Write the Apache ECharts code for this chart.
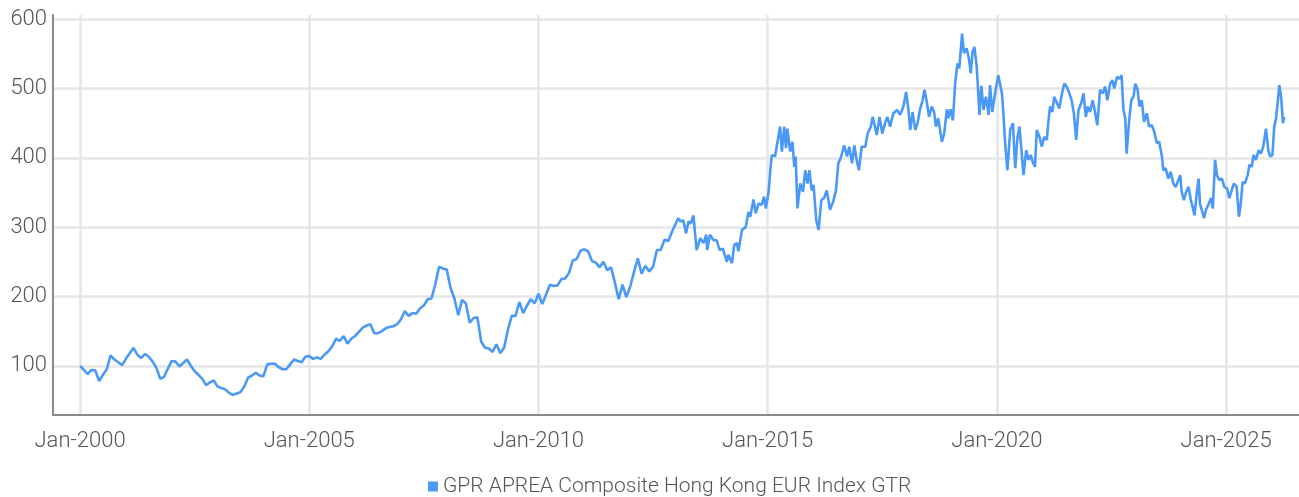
<!DOCTYPE html>
<html><head><meta charset="utf-8">
<script src="https://cdn.jsdelivr.net/npm/echarts@6/dist/echarts.min.js"></script>
<style>html,body{margin:0;padding:0;background:#fff}#c{width:1299px;height:497px}</style>
</head><body><div id="c"></div><script>
const seriesName = 'GPR APREA Composite Hong Kong EUR Index GTR';
const monthlyStartYear = 2000;
const monthlyValues = [
100,94,88,94,93,78,87,95,115,109,105,101,
110,118,126,116,111,117,113,106,97,81,84,96,
107,106,99,104,109,100,92,87,81,72,76,79,
70,68,66,61,58,60,62,70,83,86,90,86,
85,102,103,103,98,95,95,102,109,107,105,113,
114,110,112,110,116,121,128,139,136,143,132,139,
143,149,155,158,160,147,147,150,154,156,157,160,
167,179,172,176,175,183,187,196,197,218,243,240,
239,212,197,173,195,190,162,169,170,135,126,125,
120,131,118,126,152,172,172,192,176,187,196,190,
204,189,203,217,215,216,225,226,234,252,254,266,
268,265,251,249,242,250,238,242,220,196,217,199,
214,235,255,233,244,236,243,267,267,282,280,294
];
const denseYears = [
2013.05,2013.10,2013.16,2013.22,2013.27,2013.32,2013.38,2013.45,2013.53,2013.60,2013.66,2013.68,2013.74,2013.82,2013.89,2013.95,
2014.02,2014.11,2014.14,2014.22,2014.27,2014.33,2014.36,2014.44,2014.52,2014.58,2014.62,2014.69,2014.74,2014.80,2014.87,2014.92,2014.96,
2015.02,2015.07,2015.09,2015.16,2015.27,2015.31,2015.36,2015.40,2015.43,2015.49,2015.54,2015.58,2015.61,2015.65,2015.71,2015.77,2015.82,2015.87,2015.91,2015.96,
2016.00,2016.06,2016.11,2016.17,2016.23,2016.29,2016.36,2016.43,2016.49,2016.54,2016.59,2016.67,2016.73,2016.78,2016.84,2016.89,2016.94,2016.99,
2017.05,2017.13,2017.18,2017.25,2017.29,2017.34,2017.38,2017.44,2017.50,2017.56,2017.61,2017.67,2017.74,2017.82,2017.89,2017.96,
2018.02,2018.07,2018.11,2018.16,2018.22,2018.27,2018.32,2018.38,2018.42,2018.47,2018.52,2018.58,2018.63,2018.67,2018.72,2018.80,2018.85,2018.91,2018.94,2018.99,
2019.04,2019.09,2019.14,2019.18,2019.24,2019.28,2019.34,2019.39,2019.43,2019.47,2019.51,2019.56,2019.62,2019.66,2019.71,2019.76,2019.82,2019.85,2019.90,2019.96,
2020.03,2020.07,2020.11,2020.14,2020.18,2020.23,2020.29,2020.35,2020.40,2020.45,2020.49,2020.53,2020.58,2020.64,2020.69,2020.74,2020.78,2020.83,2020.87,2020.93,2020.98,
2021.03,2021.09,2021.12,2021.16,2021.21,2021.25,2021.31,2021.36,2021.42,2021.47,2021.52,2021.58,2021.63,2021.68,2021.73,2021.78,2021.84,2021.89,2021.94,2021.98,
2022.03,2022.09,2022.14,2022.19,2022.25,2022.31,2022.36,2022.41,2022.47,2022.52,2022.56,2022.62,2022.67,2022.72,2022.76,2022.80,2022.83,2022.88,2022.93,2022.98,
2023.02,2023.07,2023.11,2023.16,2023.21,2023.27,2023.32,2023.38,2023.43,2023.49,2023.54,2023.60,2023.63,2023.68,2023.74,2023.79,2023.85,2023.90,2023.96,
2024.00,2024.03,2024.08,2024.13,2024.18,2024.23,2024.27,2024.31,2024.36,2024.40,2024.43,2024.48,2024.52,2024.56,2024.61,2024.67,2024.71,2024.76,2024.80,2024.85,2024.91,2024.96,
2025.02,2025.07,2025.12,2025.17,2025.23,2025.28,2025.32,2025.36,2025.41,2025.47,2025.51,2025.56,2025.60,2025.65,2025.71,2025.76,2025.81,2025.87,2025.92,2025.96,
2026.01,2026.05,2026.09,2026.13,2026.16,2026.20,2026.24,2026.27
];
const denseValues = [
313,308,310,291,308,305,317,267,284,277,289,267,289,281,281,267,
269,250,260,248,274,277,265,296,300,322,315,340,320,334,332,344,327,
351,392,404,402,445,409,445,414,442,409,423,387,402,327,363,351,382,363,382,353,
361,310,296,339,342,353,325,337,353,392,399,418,402,416,392,418,397,382,
416,416,435,445,459,445,433,459,435,450,459,445,464,469,462,474,
495,469,440,466,440,450,469,483,498,481,459,474,466,445,457,423,435,470,457,470,
454,508,536,529,579,551,558,543,522,553,560,531,462,504,469,488,462,505,466,493,
519,517,493,466,421,382,440,450,385,430,445,416,375,411,397,404,394,387,440,430,416,
430,426,450,474,466,488,479,471,493,507,503,493,483,464,426,469,479,493,459,474,
466,483,466,447,498,493,503,483,507,512,500,517,514,519,469,457,406,450,483,488,
507,498,474,483,452,464,445,447,438,421,423,402,382,385,370,380,363,358,368,
375,351,339,351,358,339,329,317,349,370,334,322,313,325,332,342,327,397,375,368,370,358,
356,342,353,363,358,315,334,365,363,375,390,387,404,397,411,406,416,442,411,402,
404,445,457,483,505,488,450,459
];
const xTickYears = [2000, 2005, 2010, 2015, 2020, 2025];
const yTickValues = [100, 200, 300, 400, 500, 600];

const seriesData = monthlyValues.map((v, i) => [monthlyStartYear + i / 12, v])
  .concat(denseYears.map((y, i) => [y, denseValues[i]]));

const FONT = 'Roboto';
const chart = echarts.init(document.getElementById('c'), null, {renderer: 'canvas'});
chart.setOption({
  animation: false,
  backgroundColor: '#ffffff',
  grid: {left: 53, right: 0, top: 15, bottom: 82, containLabel: false},
  legend: {
    data: [seriesName],
    top: 471,
    left: 423,
    icon: 'rect',
    itemWidth: 10,
    itemHeight: 10,
    itemGap: 5,
    textStyle: {color: '#555555', fontSize: 21, fontFamily: FONT, fontWeight: 300}
  },
  xAxis: {
    type: 'value',
    min: 1999.41,
    max: 2026.59,
    axisLine: {show: true, lineStyle: {color: '#8a8a8a', width: 2}},
    axisTick: {show: false, customValues: xTickYears},
    axisLabel: {
      customValues: xTickYears,
      formatter: v => 'Jan-' + Math.round(v),
      color: '#555555', fontSize: 22, fontFamily: FONT, fontWeight: 300, margin: 15
    },
    splitLine: {show: true, lineStyle: {color: '#e6e6e6', width: 2.5}}
  },
  yAxis: {
    type: 'value',
    min: 29,
    max: 606,
    axisLine: {show: true, lineStyle: {color: '#8a8a8a', width: 2}},
    axisTick: {show: false, customValues: yTickValues},
    axisLabel: {
      customValues: yTickValues,
      color: '#555555', fontSize: 22, fontFamily: FONT, fontWeight: 300, margin: 6
    },
    splitLine: {show: true, lineStyle: {color: '#e6e6e6', width: 2.5}}
  },
  series: [{
    name: seriesName,
    type: 'line',
    data: seriesData,
    showSymbol: false,
    symbol: 'none',
    itemStyle: {color: '#4b99f6'},
    lineStyle: {color: '#4b99f6', width: 2.6}
  }]
});
</script></body></html>
